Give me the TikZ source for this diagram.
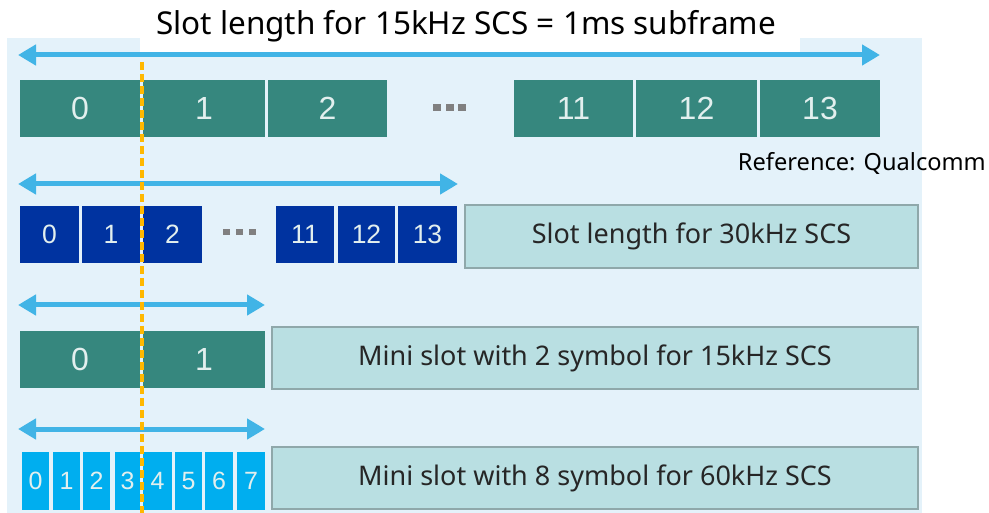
\documentclass[tikz,border=0pt]{standalone}
\usepackage{fontspec}
\setmainfont{Noto Sans}
\newfontfamily\numfont{Liberation Sans}
\usetikzlibrary{arrows.meta}
\definecolor{panelc}{HTML}{E4F2FA}
\definecolor{tealc}{HTML}{36877E}
\definecolor{navyc}{HTML}{0033A0}
\definecolor{cyanc}{HTML}{00AEEF}
\definecolor{lblfill}{HTML}{B9DFE2}
\definecolor{lbldraw}{HTML}{8FA8AA}
\definecolor{arrowc}{HTML}{41B4E6}
\definecolor{dashc}{HTML}{FFB800}
\definecolor{numc}{HTML}{E2EFEE}
\definecolor{dotc}{HTML}{808080}
\tikzset{
  slotbase/.style={inner sep=0pt, outer sep=0pt, text=numc, font=\numfont},
  tealbox/.style={slotbase, fill=tealc},
  navybox/.style={slotbase, fill=navyc},
  cyanbox/.style={slotbase, fill=cyanc},
  lblbox/.style={fill=lblfill, draw=lbldraw, line width=2pt, inner sep=0pt, font=\fontsize{27}{31}\selectfont, text=black!85},
  spanarrow/.style={draw=arrowc, line width=5pt, {Triangle[length=18pt,width=20pt]}-{Triangle[length=18pt,width=20pt]}},
  marker/.style={draw=dashc, line width=3.2pt, dash pattern=on 8pt off 4pt}
}
\begin{document}
\begin{tikzpicture}[x=1pt,y=-1pt]
\useasboundingbox (0,0) rectangle (989,513);
% panel and title backing
\fill[panelc] (7,38) rectangle (922,513);
\fill[white] (140,0) rectangle (800,52);
\node[anchor=base, font=\fontsize{31.5}{36}\selectfont] (title) at (466,35) {Slot length for 15kHz SCS = 1ms subframe};
\node[anchor=base east, inner sep=0pt, font=\fontsize{23.6}{28}\selectfont] (ref) at (986,171) {Reference: Qualcomm};

% row 1
\foreach \l/\r/\t in {20/140/0,143/265/1,268/387/2,514/633/11,636/757/12,760/880/13}
  \node[tealbox, minimum width={\r-\l}, minimum height=57, font=\numfont\fontsize{32}{36}\selectfont] (ra\t) at ({(\l+\r)/2},108.5) {\t};
\foreach \x in {433,445.5,458} \fill[dotc] (\x,104) rectangle ++(8,7);

% row 2
\foreach \l/\r/\t in {20/79/0,82/140/1,143/202/2,276/334/11,338/395/12,398/457/13}
  \node[navybox, minimum width={\r-\l}, minimum height=57, font=\numfont\fontsize{26.5}{30}\selectfont] (rb\t) at ({(\l+\r)/2},234.5) {\t};
\foreach \x in {223,236,249} \fill[dotc] (\x,229.5) rectangle ++(7,6);
\node[lblbox, minimum width=453, minimum height=63] (lb) at (691.5,236.5) {Slot length for 30kHz SCS};

% row 3
\foreach \l/\r/\t in {20/140/0,143/265/1}
  \node[tealbox, minimum width={\r-\l}, minimum height=57, font=\numfont\fontsize{32}{36}\selectfont] (rc\t) at ({(\l+\r)/2},359.5) {\t};
\node[lblbox, minimum width=646, minimum height=62] (lc) at (595,358) {Mini slot with 2 symbol for 15kHz SCS};

% row 4
\foreach \l/\r/\t in {22/49/0,53/80/1,83/110/2,115/140/3,143/172/4,175/202/5,205/233/6,237/265/7}
  \node[cyanbox, minimum width={\r-\l}, minimum height=58, font=\numfont\fontsize{25}{28}\selectfont] (rd\t) at ({(\l+\r)/2},481) {\t};
\node[lblbox, minimum width=646, minimum height=62] (ld) at (595,478) {Mini slot with 8 symbol for 60kHz SCS};

% span arrows
\coordinate (a1l) at (18,55);  \coordinate (a1r) at (880,55);
\coordinate (a2l) at (18,184); \coordinate (a2r) at (458,184);
\coordinate (a3l) at (18,305); \coordinate (a3r) at (265,305);
\coordinate (a4l) at (18,429); \coordinate (a4r) at (265,429);
\draw[spanarrow] (a1l) -- (a1r);
\draw[spanarrow] (a2l) -- (a2r);
\draw[spanarrow] (a3l) -- (a3r);
\draw[spanarrow] (a4l) -- (a4r);

% marker line
\coordinate (mtop) at (142,62); \coordinate (mbot) at (142,513);
\draw[marker] (mtop) -- (mbot);
\end{tikzpicture}
\end{document}
